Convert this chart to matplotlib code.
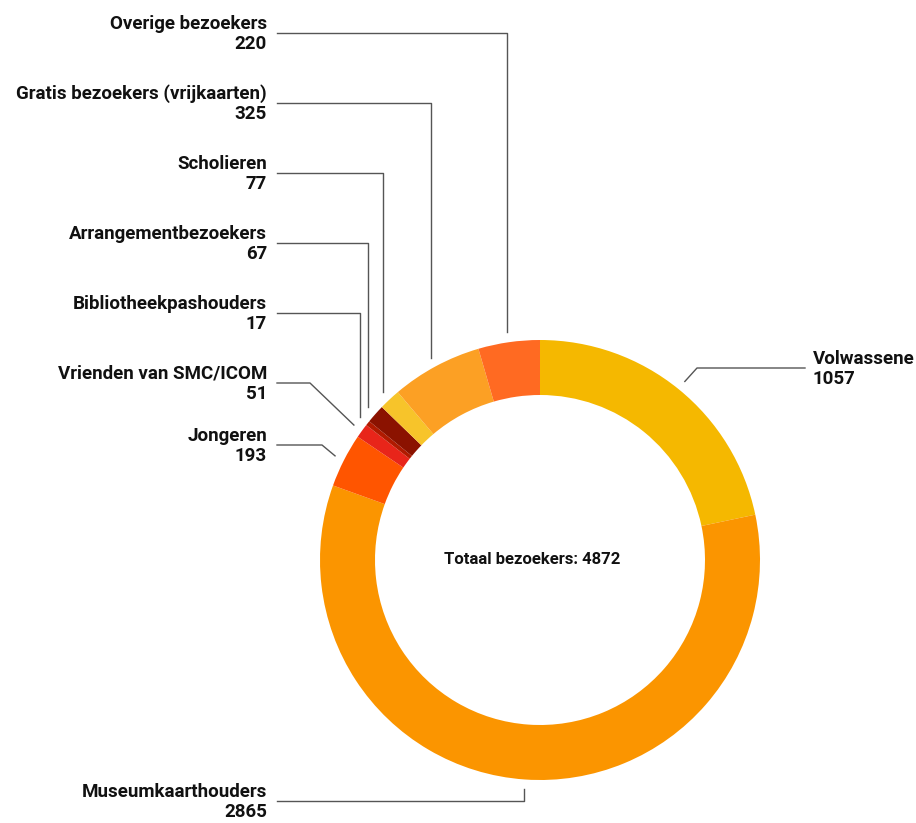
import matplotlib.pyplot as plt
import numpy as np

# data
labels = ['Volwassene', 'Museumkaarthouders', 'Jongeren', 'Vrienden van SMC/ICOM',
          'Bibliotheekpashouders', 'Arrangementbezoekers', 'Scholieren',
          'Gratis bezoekers (vrijkaarten)', 'Overige bezoekers']
values = [1057, 2865, 193, 51, 17, 67, 77, 325, 220]
colors = ['#F5B800', '#FB9500', '#FF5500', '#E8251A', '#B01A00',
          '#8B1200', '#F7C42A', '#FCA024', '#FF6A22']

# label layout in pixels: (text x, text y centre, alignment, elbow x or None)
label_pos = [
    (813, 369, 'left', 697),
    (267, 802, 'right', None),
    (267, 446, 'right', 322),
    (267, 384, 'right', 310),
    (267, 314, 'right', None),
    (267, 244, 'right', None),
    (267, 174, 'right', None),
    (267, 104, 'right', None),
    (267, 34, 'right', None),
]

W, H = 916, 823
plt.rcParams['font.family'] = ['Roboto', 'DejaVu Sans']

fig = plt.figure(figsize=(W / 100, H / 100), dpi=100)
ax = fig.add_axes([0, 0, 1, 1])

cx, cy, R = 540, H - 560, 220
wedges, _ = ax.pie(values, colors=colors, startangle=90, counterclock=False,
                   center=(cx, cy), radius=R, frame=True,
                   wedgeprops=dict(width=55, linewidth=0))
ax.set_xlim(0, W)
ax.set_ylim(0, H)
ax.set_aspect('equal')
ax.axis('off')

for w, name, val, (tx, ty, ha, ex) in zip(wedges, labels, values, label_pos):
    mid = np.deg2rad((w.theta1 + w.theta2) / 2)
    px = cx + R * 1.045 * np.cos(mid)
    py = cy + R * 1.045 * np.sin(mid)
    ly = H - ty + 1
    x0 = tx + 10 if ha == 'right' else tx - 8
    if ex is None:
        xs = [x0, px, px]
    else:
        xs = [x0, ex, px]
    ys = [ly, ly, py]
    ax.plot(xs, ys, color='#555555', linewidth=1)
    ax.text(tx, H - ty, f'{name}\n{val}', ha=ha, va='center', multialignment=ha,
            fontsize=13.5, fontweight='bold', linespacing=1.15, color='#111111')

ax.text(cx - 8, cy, f'Totaal bezoekers: {sum(values)}', ha='center', va='center',
        fontsize=12, fontweight='bold', color='#111111')

fig.savefig('out.png', dpi=100)
